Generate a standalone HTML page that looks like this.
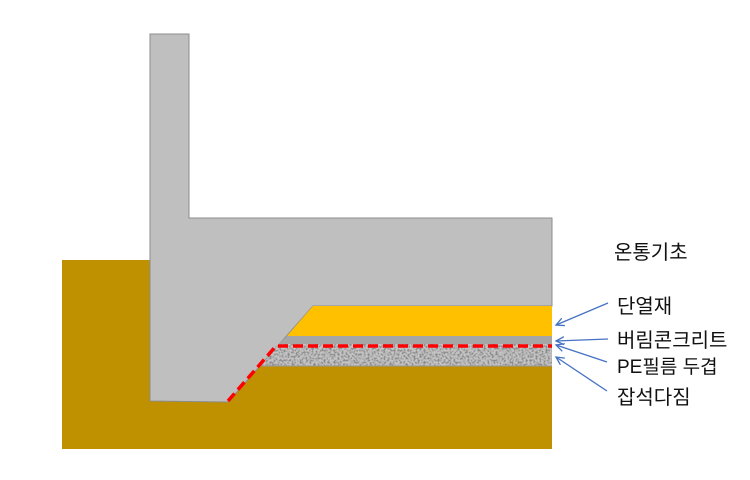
<!DOCTYPE html>
<html><head><meta charset="utf-8"><style>
html,body{margin:0;padding:0;background:#fff;width:750px;height:480px;overflow:hidden}
svg text{font-family:"Liberation Sans","Noto Sans CJK KR",sans-serif;font-size:20px;fill:#111}
</style></head><body>
<svg width="750" height="480" viewBox="0 0 750 480" xmlns="http://www.w3.org/2000/svg">
<defs>
<filter id="grav" x="0" y="0" width="100%" height="100%">
<feTurbulence type="fractalNoise" baseFrequency="0.5" numOctaves="2" seed="3" result="n"/>
<feColorMatrix type="matrix" values="0 0 0 0 0.25  0 0 0 0 0.25  0 0 0 0 0.25  0 0 0 -4 2.3" in="n" result="a"/>
<feFlood flood-color="#c4c4c4" result="bg"/>
<feComposite in="a" in2="bg" operator="over" result="c"/>
<feComposite in="c" in2="SourceGraphic" operator="in"/>
</filter>
<marker id="ar" markerWidth="10" markerHeight="10" refX="8" refY="5" orient="auto" markerUnits="userSpaceOnUse">
<path d="M0,1 L8,5 L0,9" fill="none" stroke="#4472c4" stroke-width="1.3"/>
</marker>
</defs>
<rect x="62" y="260" width="490" height="189" fill="#bf9000"/>
<polygon points="150,34 189,34 189,218 552,218 552,306 313,306 228,402 150,401" fill="#bfbfbf" stroke="#8c8c8c" stroke-width="1"/>
<polygon points="313,306 552,306 552,336 287,336" fill="#ffc000"/>
<polygon points="287,336 552,336 552,344 279,344" fill="#a6a6a6"/>
<polygon points="279,344 552,344 552,366 260,366" fill="#aaa" filter="url(#grav)"/>
<line x1="260" y1="366" x2="552" y2="366" stroke="#999" stroke-width="1"/>
<polyline points="228,401 276,346 552,346" fill="none" stroke="#ff0000" stroke-width="3.5" stroke-dasharray="10,5"/>
<g stroke="#4472c4" stroke-width="1.3" marker-end="url(#ar)">
<line x1="608" y1="303" x2="556" y2="325"/>
<line x1="608" y1="339" x2="556" y2="341"/>
<line x1="607" y1="362" x2="556" y2="345"/>
<line x1="607" y1="391" x2="556" y2="357"/>
</g>
<text x="614" y="259">온통기초</text>
<text x="617" y="313">단열재</text>
<text x="617" y="347">버림콘크리트</text>
<text x="617" y="373" style="font-size:19px">PE필름 두겹</text>
<text x="617" y="404">잡석다짐</text>
</svg>
</body></html>
